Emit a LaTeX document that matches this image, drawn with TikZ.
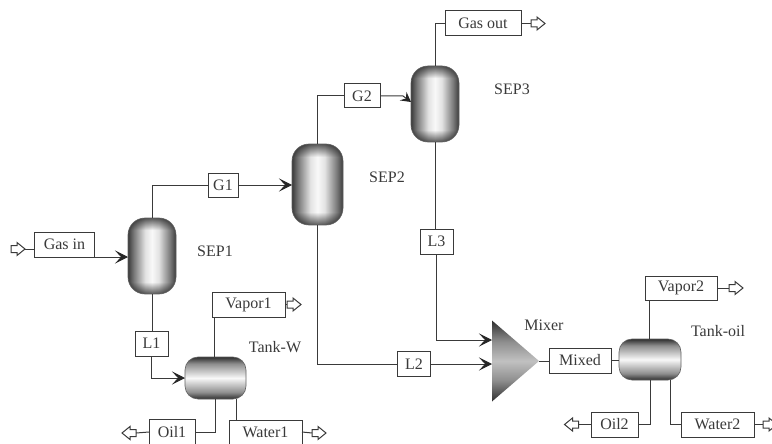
\documentclass[tikz,border=0pt]{standalone}
\usepackage{fontspec}
\setmainfont{Liberation Serif}
\usetikzlibrary{arrows.meta,shapes.geometric,calc,fadings}
\definecolor{ink}{HTML}{3A3A3A}
\definecolor{ves0}{HTML}{3A3A3A}
\definecolor{ves1}{HTML}{8E8E8E}
\definecolor{ves2}{HTML}{F8F8F8}
\pgfdeclarehorizontalshading{vesselh}{100bp}{color(0bp)=(ves0);color(25bp)=(ves0);color(31bp)=(ves1!85!black);color(43bp)=(ves2!80!ves1);color(50bp)=(ves2);color(57bp)=(ves2!80!ves1);color(69bp)=(ves1!85!black);color(75bp)=(ves0);color(100bp)=(ves0)}
\pgfdeclareverticalshading{vesselv}{100bp}{color(0bp)=(ves0);color(25bp)=(ves0!80!black);color(33bp)=(ves1);color(50bp)=(ves2);color(67bp)=(ves1);color(75bp)=(ves0!80!black);color(100bp)=(ves0)}
\pgfdeclareverticalshading{mixshade}{100bp}{color(0bp)=(ves0);color(25bp)=(ves0!80!black);color(38bp)=(ves1);color(50bp)=(ves1!55!white);color(62bp)=(ves1);color(75bp)=(ves0!80!black);color(100bp)=(ves0)}
\pgfdeclareverticalshading{endsshade}{100bp}{color(0bp)=(pgftransparent!35);color(25bp)=(pgftransparent!35);color(33bp)=(pgftransparent!100);color(67bp)=(pgftransparent!100);color(75bp)=(pgftransparent!35);color(100bp)=(pgftransparent!35)}
\pgfdeclarefading{endsfade}{\pgfuseshading{endsshade}}
\tikzset{
  line/.style={draw=ink,line width=1pt},
  feed/.style={line,-{Stealth[length=13pt,width=13pt,inset=6pt,color=black!85]}},
  smallfeed/.style={line,-{Stealth[length=10pt,width=11pt,inset=4pt,color=black!85]}},
  stream/.style={draw=ink,line width=1pt,fill=white,text=ink,inner sep=0pt,outer sep=0pt,minimum height=25pt,font=\fontsize{16}{18}\selectfont},
  tag/.style={text=ink,inner sep=0pt,font=\fontsize{16}{18}\selectfont},
  arrowbox/.style={inner sep=0pt,outer sep=0pt,minimum width=14pt,minimum height=13pt},
  arrowline/.style={draw=ink,line width=1pt,fill=white,line join=miter},
  endsdark/.style={path picture={\fill[black,path fading=endsfade] (path picture bounding box.south west) rectangle (path picture bounding box.north east);}},
  tower/.style={draw=ves0!80,line width=.6pt,shading=vesselh,inner sep=0pt,outer sep=0pt,rounded corners=17pt,endsdark},
  drum/.style={draw=ves0!80,line width=.6pt,shading=vesselv,inner sep=0pt,outer sep=0pt,rounded corners=13pt}
}
\newcommand{\rightout}[2]{\node[arrowbox] (#1) at (#2) {};
  \draw[arrowline] ($(#1.west)+(0,-3.5)$) -- ++(6,0) -- ++(0,-3) -- (#1.east) -- ($(#1.west)+(6,6.5)$) -- ++(0,-3) -- ($(#1.west)+(0,3.5)$) -- cycle;}
\newcommand{\leftout}[2]{\node[arrowbox] (#1) at (#2) {};
  \draw[arrowline] ($(#1.east)+(0,-3.5)$) -- ++(-6,0) -- ++(0,-3) -- (#1.west) -- ($(#1.east)+(-6,6.5)$) -- ++(0,-3) -- ($(#1.east)+(0,3.5)$) -- cycle;}
\begin{document}
\begin{tikzpicture}[x=1pt,y=-1pt]
\useasboundingbox (0,0) rectangle (772,444);
% vessels
\node[tower,minimum width=48pt,minimum height=76pt] (sep1) at (152,256) {};
\node[tower,minimum width=51pt,minimum height=81pt] (sep2) at (317.5,184.5) {};
\node[tower,minimum width=48pt,minimum height=76pt] (sep3) at (435,104) {};
\node[drum,minimum width=61pt,minimum height=42pt] (tankw) at (215.5,378) {};
\node[drum,minimum width=62pt,minimum height=41pt] (tanko) at (650,359.5) {};
\node[isosceles triangle,isosceles triangle stretches,shape border rotate=0,minimum width=81pt,minimum height=47pt,inner sep=0pt,outer sep=0pt,shading=mixshade,anchor=apex] (mixer) at (539,361) {};
% stream boxes
\node[stream,minimum width=60pt] (gasin) at (64.5,244.5) {Gas in};
\node[stream,minimum width=30pt,minimum height=24pt] (g1) at (223,185) {G1};
\node[stream,minimum width=36pt,minimum height=24pt] (g2) at (362,96) {G2};
\node[stream,minimum width=76pt] (gasout) at (483,23.5) {Gas out};
\node[stream,minimum width=33pt] (l1) at (151.5,343.5) {L1};
\node[stream,minimum width=33pt] (l2) at (414,364) {L2};
\node[stream,minimum width=33pt] (l3) at (436.5,241.5) {L3};
\node[stream,minimum width=73pt] (vapor1) at (248.5,304.5) {Vapor1};
\node[stream,minimum width=46pt] (oil1) at (172,432) {Oil1};
\node[stream,minimum width=73pt,minimum height=24pt] (water1) at (265.5,432) {Water1};
\node[stream,minimum width=62pt] (mixed) at (580,360.5) {Mixed};
\node[stream,minimum width=72pt,minimum height=24pt] (vapor2) at (681,288) {Vapor2};
\node[stream,minimum width=47pt] (oil2) at (614.5,424.5) {Oil2};
\node[stream,minimum width=73pt] (water2) at (717.5,424.5) {Water2};
% open arrows
\rightout{a1}{18,249}
\rightout{a2}{538,23.5}
\rightout{a3}{294,304.5}
\leftout{a4}{129,433}
\rightout{a5}{319,433}
\rightout{a6}{736,288}
\leftout{a7}{571.5,424.5}
\rightout{a8}{770,424.5}
% labels
\node[tag] (tsep1) at (215,251) {SEP1};
\node[tag] (tsep2) at (387,177.5) {SEP2};
\node[tag] (tsep3) at (512,89) {SEP3};
\node[tag] (ttankw) at (275,347) {Tank-W};
\node[tag] (tmixer) at (544,325) {Mixer};
\node[tag] (ttanko) at (718,331) {Tank-oil};
% connectors
\draw[line] (a1.east) -- (gasin.west |- a1.east);
\draw[feed] (gasin.south east) -- (sep1.west |- gasin.south east);
\draw[line] (sep1.north) |- (g1.west);
\draw[feed] (g1.east) -- (sep2.west |- g1.east);
\draw[line] (sep2.north) |- (g2.west);
\draw[smallfeed] (g2.east) -- ($(sep3.west |- g2.east)+(-8,0)$) -- ($(sep3.west |- g2.east)+(0,6)$);
\draw[line] (sep3.north) |- (gasout.west);
\draw[line] (gasout.east) -- (a2.west);
\draw[line] (sep3.south) -- (l3.north -| sep3.south);
\draw[feed] (l3.south) |- ($(mixer.lower side)+(0,-21)$);
\draw[line] (sep2.south) |- (l2.west);
\draw[feed] (l2.east) -- (l2.east -| mixer.lower side);
\draw[line] (mixer.apex) -- (mixed.west |- mixer.apex);
\draw[line] (mixed.east) -- (tanko.west |- mixed.east);
\draw[line] (sep1.south) -- (l1.north -| sep1.south);
\draw[feed] (l1.south) |- (tankw.west);
\draw[line] ($(vapor1.south west)+(2,0)$) -- ($(tankw.north)+(-1.5,0)$);
\draw[line] (vapor1.east) -- (a3.west);
\draw[line] (oil1.east) -| (tankw.south);
\draw[line] (oil1.west) -- (a4.east);
\draw[line] ($(tankw.south)+(20.5,0)$) -- (water1.north -| {$(tankw.south)+(20.5,0)$});
\draw[line] (water1.east) -- (a5.west);
\draw[line] ($(vapor2.south west)+(4,0)$) -- (tanko.north -| {$(vapor2.south west)+(4,0)$});
\draw[line] (vapor2.east) -- (a6.west);
\draw[line] (oil2.east) -| (tanko.south);
\draw[line] (oil2.west) -- (a7.east);
\draw[line] ($(tanko.south)+(20,0)$) |- (water2.west);
\draw[line] (water2.east) -- (a8.west);
\end{tikzpicture}
\end{document}
